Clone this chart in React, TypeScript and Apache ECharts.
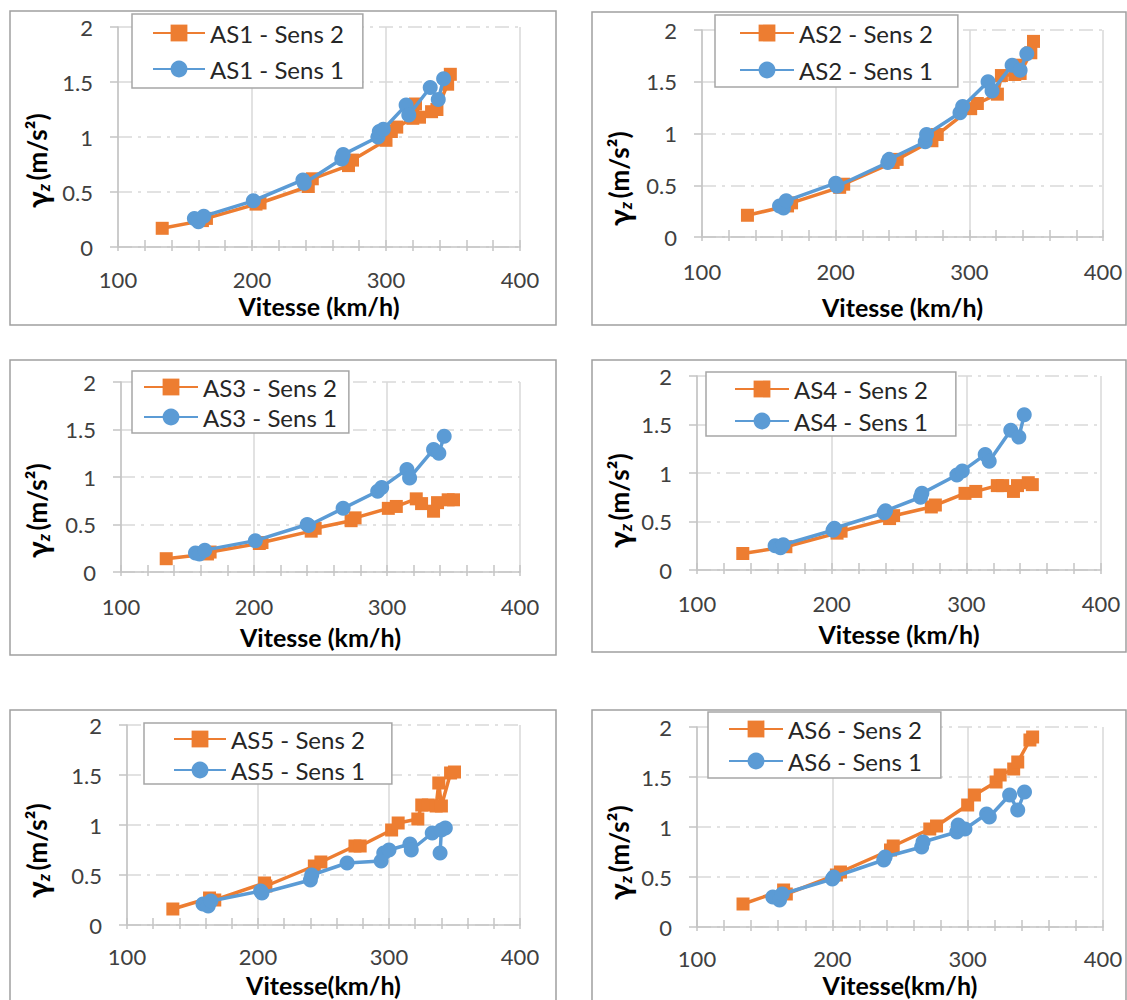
import React, { useEffect, useRef } from "react";
import * as echarts from "echarts";

const ORANGE = "#ED7D31";
const BLUE = "#5B9BD5";
const AXIS = "#C4C4C4";
const GRIDC = "#D9D9D9";
const TXT = "#404040";
const FONT = "Lato, 'Open Sans', sans-serif";

const panelNames = ["AS1", "AS2", "AS3", "AS4", "AS5", "AS6"];
const xTitles = [
  "Vitesse (km/h)",
  "Vitesse (km/h)",
  "Vitesse (km/h)",
  "Vitesse (km/h)",
  "Vitesse(km/h)",
  "Vitesse(km/h)",
];
const xRange = [100, 400, 100];
const yRange = [0, 2, 0.5];

// Sens 2 (orange squares) and Sens 1 (blue circles): [speed km/h, gamma z m/s²]
const as1Sens2 = [[133, 0.17], [163, 0.24], [166, 0.26], [203, 0.39], [206, 0.4], [242, 0.55], [245, 0.62], [272, 0.74], [275, 0.79], [300, 0.97], [304, 1.05], [308, 1.09], [320, 1.17], [322, 1.3], [325, 1.18], [334, 1.23], [338, 1.25], [346, 1.48], [348, 1.57]];
const as1Sens1 = [[157, 0.26], [160, 0.23], [164, 0.28], [201, 0.42], [238, 0.61], [239, 0.58], [267, 0.8], [268, 0.84], [294, 1.0], [295, 1.05], [298, 1.07], [315, 1.29], [317, 1.2], [333, 1.45], [339, 1.34], [343, 1.53]];
const as2Sens2 = [[134, 0.21], [164, 0.3], [167, 0.33], [203, 0.48], [206, 0.51], [243, 0.72], [246, 0.75], [272, 0.93], [276, 0.99], [301, 1.24], [306, 1.29], [321, 1.38], [324, 1.56], [334, 1.57], [336, 1.66], [338, 1.58], [346, 1.78], [348, 1.89]];
const as2Sens1 = [[158, 0.3], [161, 0.28], [163, 0.35], [200, 0.52], [201, 0.49], [239, 0.72], [240, 0.75], [267, 0.92], [268, 0.99], [293, 1.2], [295, 1.26], [314, 1.5], [317, 1.41], [332, 1.66], [338, 1.61], [343, 1.77]];
const as3Sens2 = [[134, 0.14], [165, 0.19], [167, 0.21], [204, 0.3], [206, 0.31], [243, 0.43], [246, 0.46], [273, 0.54], [276, 0.57], [301, 0.67], [307, 0.69], [322, 0.77], [326, 0.72], [335, 0.64], [338, 0.73], [346, 0.76], [350, 0.76]];
const as3Sens1 = [[156, 0.2], [159, 0.19], [163, 0.23], [201, 0.33], [240, 0.5], [241, 0.49], [267, 0.67], [293, 0.85], [296, 0.89], [315, 1.08], [317, 0.99], [335, 1.29], [339, 1.25], [343, 1.43]];
const as4Sens2 = [[134, 0.17], [166, 0.24], [204, 0.38], [207, 0.4], [243, 0.53], [246, 0.56], [274, 0.65], [277, 0.67], [299, 0.79], [307, 0.81], [323, 0.87], [327, 0.87], [335, 0.81], [338, 0.87], [346, 0.9], [349, 0.88]];
const as4Sens1 = [[158, 0.25], [162, 0.23], [164, 0.26], [201, 0.41], [202, 0.43], [239, 0.59], [240, 0.61], [266, 0.75], [267, 0.79], [293, 0.98], [297, 1.02], [314, 1.19], [317, 1.12], [333, 1.44], [339, 1.37], [343, 1.6]];
const as5Sens2 = [[135, 0.16], [163, 0.27], [167, 0.25], [205, 0.42], [206, 0.39], [243, 0.59], [248, 0.63], [274, 0.79], [278, 0.79], [302, 0.95], [307, 1.02], [322, 1.06], [325, 1.2], [330, 1.2], [336, 1.19], [338, 1.42], [340, 1.19], [347, 1.52], [350, 1.53]];
const as5Sens1 = [[158, 0.21], [162, 0.19], [164, 0.24], [202, 0.34], [203, 0.32], [240, 0.45], [241, 0.5], [268, 0.62], [294, 0.64], [296, 0.72], [300, 0.75], [316, 0.81], [317, 0.75], [333, 0.92], [343, 0.97], [340, 0.95], [339, 0.72]];
const as6Sens2 = [[134, 0.23], [164, 0.37], [166, 0.33], [203, 0.52], [206, 0.55], [243, 0.77], [245, 0.81], [272, 0.98], [277, 1.01], [300, 1.22], [305, 1.32], [321, 1.45], [324, 1.52], [334, 1.58], [337, 1.65], [346, 1.87], [348, 1.9]];
const as6Sens1 = [[156, 0.3], [161, 0.27], [163, 0.33], [200, 0.48], [201, 0.5], [238, 0.67], [239, 0.7], [266, 0.8], [267, 0.85], [292, 0.95], [293, 1.02], [298, 0.98], [314, 1.13], [316, 1.1], [331, 1.32], [337, 1.17], [342, 1.35]];

const sens2Data = [as1Sens2, as2Sens2, as3Sens2, as4Sens2, as5Sens2, as6Sens2];
const sens1Data = [as1Sens1, as2Sens1, as3Sens1, as4Sens1, as5Sens1, as6Sens1];

// layout (pixels)
const LAYOUT = [
  { frame: [10, 11, 556, 325], grid: [118, 27, 402, 220], labelMargin: 22, nameGap: 46, legend: { left: 132, top: 14, pad: [7, 19, 7, 20], gap: 12, iw: 52 }, yTitle: [37, 208] },
  { frame: [592, 12, 1126, 325], grid: [702, 30, 401, 207], labelMargin: 24, nameGap: 57, legend: { left: 715, top: 15, pad: [6, 25, 5, 24], gap: 13, iw: 54 }, yTitle: [619, 226] },
  { frame: [10, 360, 556, 655], grid: [121, 382, 399, 190], labelMargin: 24, nameGap: 52, legend: { left: 132, top: 371, pad: [4, 12, 4, 11], gap: 6, iw: 54 }, yTitle: [37, 558] },
  { frame: [592, 360, 1126, 652], grid: [697, 376, 404, 194], labelMargin: 23, nameGap: 51, legend: { left: 706, top: 372, pad: [5, 28, 3, 28], gap: 8, iw: 54 }, yTitle: [619, 548] },
  { frame: [10, 710, 556, 1010], grid: [127, 725, 393, 200], labelMargin: 21, nameGap: 47, legend: { left: 144, top: 723, pad: [4, 27, 2, 29], gap: 7, iw: 52 }, yTitle: [37, 898] },
  { frame: [592, 710, 1126, 1010], grid: [697, 727, 406, 200], labelMargin: 21, nameGap: 45, legend: { left: 708, top: 712, pad: [5, 19, 5, 20], gap: 8, iw: 54 }, yTitle: [619, 900] },
];

function buildOption() {
  const grid: any[] = [];
  const xAxis: any[] = [];
  const yAxis: any[] = [];
  const series: any[] = [];
  const legend: any[] = [];
  const graphic: any[] = [];

  panelNames.forEach((name, i) => {
    const L = LAYOUT[i];
    const [gl, gt, gw, gh] = L.grid;
    grid.push({ left: gl, top: gt, width: gw, height: gh, containLabel: false });

    xAxis.push({
      gridIndex: i,
      type: "value",
      position: "bottom",
      min: xRange[0],
      max: xRange[1],
      interval: xRange[2],
      name: xTitles[i],
      nameLocation: "middle",
      nameGap: L.nameGap,
      nameTextStyle: { fontFamily: FONT, fontWeight: "bold", fontSize: 25, color: "#000", lineHeight: 25 },
      axisLine: { show: true, lineStyle: { color: AXIS, width: 1.5 } },
      axisTick: { show: true, inside: false, length: 4, lineStyle: { color: AXIS, width: 1.5 } },
      minorTick: { show: true, splitNumber: 5, length: 4, lineStyle: { color: AXIS, width: 1.5 } },
      axisLabel: { margin: L.labelMargin, fontSize: 22, color: TXT, fontFamily: FONT, lineHeight: 20 },
      splitLine: { show: true, lineStyle: { color: GRIDC, width: 1.5, type: "solid" } },
    });
    xAxis.push({
      gridIndex: i,
      type: "value",
      position: "bottom",
      min: xRange[0],
      max: xRange[1],
      interval: xRange[2],
      axisLine: { show: false },
      axisLabel: { show: false },
      splitLine: { show: false },
      axisTick: { show: true, inside: true, length: 7, lineStyle: { color: AXIS, width: 1.5 } },
      minorTick: { show: true, splitNumber: 5, length: 7, lineStyle: { color: AXIS, width: 1.5 } },
    });
    yAxis.push({
      gridIndex: i,
      type: "value",
      min: yRange[0],
      max: yRange[1],
      interval: yRange[2],
      axisLine: { show: true, lineStyle: { color: AXIS, width: 1.5 } },
      axisTick: { show: true, length: 8, lineStyle: { color: AXIS, width: 1.5 } },
      axisLabel: { margin: 25, fontSize: 22, color: TXT, fontFamily: FONT },
      splitLine: { show: true, lineStyle: { color: GRIDC, width: 1.5, type: [14, 6, 3, 6] } },
    });

    const n2 = `${name} - Sens 2`;
    const n1 = `${name} - Sens 1`;
    series.push({
      type: "line",
      name: n2,
      xAxisIndex: 2 * i,
      yAxisIndex: i,
      data: sens2Data[i],
      symbol: "rect",
      symbolSize: 13,
      lineStyle: { color: ORANGE, width: 3.5 },
      itemStyle: { color: ORANGE },
      z: 3,
    });
    series.push({
      type: "line",
      name: n1,
      xAxisIndex: 2 * i,
      yAxisIndex: i,
      data: sens1Data[i],
      symbol: "circle",
      symbolSize: 15,
      lineStyle: { color: BLUE, width: 3.5 },
      itemStyle: { color: BLUE },
      z: 4,
    });

    const lg = L.legend;
    legend.push({
      orient: "vertical",
      left: lg.left,
      top: lg.top,
      padding: lg.pad,
      itemGap: lg.gap,
      itemWidth: lg.iw,
      itemHeight: 21,
      backgroundColor: "#fff",
      borderColor: "#A6A6A6",
      borderWidth: 1.5,
      data: [n2, n1],
      textStyle: { fontFamily: FONT, fontSize: 24, color: "#262626", lineHeight: 24 },
      z: 10,
    });

    const [fx1, fy1, fx2, fy2] = L.frame;
    graphic.push({
      type: "rect",
      silent: true,
      z: -10,
      shape: { x: fx1, y: fy1, width: fx2 - fx1, height: fy2 - fy1 },
      style: { fill: "none", stroke: "#A0A0A0", lineWidth: 1.5 },
    });
    graphic.push({
      type: "text",
      silent: true,
      x: L.yTitle[0],
      y: L.yTitle[1],
      rotation: Math.PI / 2,
      style: {
        text: "{g|γ}{z|z} {t|(m/s²)}",
        align: "left",
        verticalAlign: "middle",
        fill: "#000",
        rich: {
          g: { fontFamily: FONT, fontWeight: "bold", fontSize: 30, fill: "#000" },
          z: { fontFamily: FONT, fontWeight: "bold", fontStyle: "italic", fontSize: 17, fill: "#000", verticalAlign: "bottom", padding: [8, 0, 0, 0] },
          t: { fontFamily: FONT, fontWeight: "bold", fontSize: 26, fill: "#000" },
        },
      },
    });
  });

  return {
    animation: false,
    backgroundColor: "#fff",
    grid,
    xAxis,
    yAxis,
    series,
    legend,
    graphic,
  };
}

export default function App() {
  const ref = useRef<HTMLDivElement>(null);
  useEffect(() => {
    if (!ref.current) return;
    const chart = echarts.init(ref.current, undefined, { renderer: "svg" });
    chart.setOption(buildOption());
    return () => chart.dispose();
  }, []);
  return (
    <div
      ref={ref}
      style={{ position: "absolute", left: 0, top: 0, width: 1127, height: 1000, background: "#fff" }}
    />
  );
}
